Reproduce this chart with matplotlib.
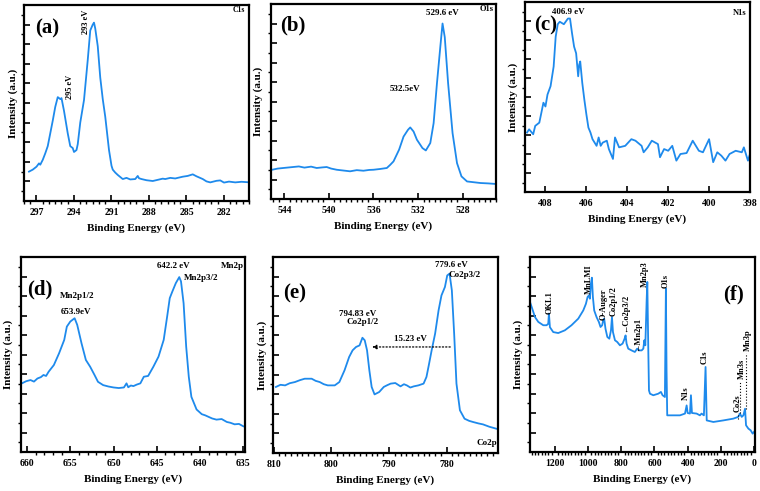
import matplotlib
matplotlib.use('Agg')
import matplotlib.pyplot as plt
from matplotlib.ticker import MultipleLocator

plt.rcParams['font.family'] = ['Liberation Serif', 'DejaVu Serif']
plt.rcParams['font.weight'] = 'bold'

BLUE = '#1e8aec'

# ── data (binding energy eV, intensity in % of axis height) ──
c1s_x = [297.6, 297.3, 297.0, 296.8, 296.7, 296.5, 296.3, 296.1, 295.9, 295.7, 295.5, 295.3,
         295.1, 295.0, 294.8, 294.5, 294.3, 294.1, 294.0, 293.8, 293.7, 293.5, 293.2, 292.9,
         292.7, 292.5, 292.4, 292.3, 292.1, 291.9, 291.7, 291.5, 291.2, 291.0, 290.9, 290.7,
         290.5, 290.1, 289.8, 289.5, 289.1, 288.9, 288.8, 288.6, 288.2, 287.7, 287.3, 286.9,
         286.7, 286.3, 285.9, 285.3, 284.9, 284.5, 284.2, 283.7, 283.4, 283.1, 282.6, 282.3,
         282.0, 281.6, 281.1, 280.6, 279.9]
c1s_y = [15, 16, 17.5, 19.2, 18.5, 21, 24.3, 28, 34.5, 41, 48, 53,
         52, 52.5, 46, 34.5, 28, 27, 25, 26, 29, 40, 51.5, 72,
         87, 90, 91, 88, 79, 63, 52, 43, 26, 18, 16, 14.5,
         13.3, 11.2, 11.8, 11, 11.2, 12.8, 11.6, 11.2, 10.6, 10.2, 10.8, 11.4,
         11.2, 11.8, 11.5, 12.4, 12.8, 13.6, 12.6, 11.2, 10, 9.5, 10.3, 10.5,
         9.4, 9.9, 9.5, 9.8, 9.5]

o1s_x = [545.1, 544.6, 544.1, 543.4, 542.7, 542.2, 541.6, 541.1, 540.6, 540.2, 539.8, 539.3,
         538.7, 538.1, 537.5, 536.9, 536.4, 536.0, 535.4, 534.8, 534.5, 534.2, 533.7, 533.3,
         532.9, 532.7, 532.4, 532.1, 531.6, 531.3, 530.9, 530.6, 530.3, 530.0, 529.8, 529.6,
         529.3, 528.9, 528.5, 528.1, 527.6, 527.0, 526.4, 525.7, 525.0]
o1s_y = [15, 15.6, 15.9, 16.3, 16.7, 16.1, 16.6, 15.9, 16.2, 16.4, 15.6, 15,
         14.6, 14.2, 14.8, 14.5, 14.9, 15, 15.4, 15.9, 17.5, 19.3, 25.3, 32,
         35.5, 36.7, 34.6, 30.4, 26.1, 24.9, 28.7, 38.9, 59.4, 78, 90, 83,
         59.4, 33.8, 18.4, 11.6, 9, 8.6, 8.2, 8.0, 7.7]

n1s_x = [408.9, 408.8, 408.6, 408.5, 408.3, 408.2, 408.1, 408.0, 407.9, 407.75, 407.6, 407.5,
         407.4, 407.3, 407.1, 406.9, 406.8, 406.7, 406.6, 406.5, 406.4, 406.35, 406.3, 406.2,
         406.1, 406.0, 405.9, 405.8, 405.7, 405.5, 405.4, 405.3, 405.2, 405.0, 404.9, 404.7,
         404.6, 404.4, 404.1, 403.8, 403.6, 403.3, 403.2, 403.0, 402.8, 402.5, 402.4, 402.2,
         402.0, 401.8, 401.6, 401.4, 401.1, 400.8, 400.5, 400.3, 400.0, 399.8, 399.6, 399.4,
         399.2, 399.0, 398.7, 398.4, 398.3, 398.1, 398.0]
n1s_y = [31.3, 33, 30.4, 34.8, 36.5, 41.7, 47, 45, 51.3, 55.7, 66, 81.7,
         88.3, 89.6, 88.3, 91.3, 91.3, 83.5, 76.5, 73, 60.9, 67, 68.7, 57.4,
         48.7, 40.9, 33.9, 31.3, 27.8, 24.3, 28.7, 24.3, 26, 27, 22.6, 17.4,
         28.7, 23.5, 24.3, 27.8, 27, 24.3, 20.9, 23.5, 27, 25.2, 18.3, 22.6,
         21.7, 24.3, 16.5, 20, 20.5, 27, 21.7, 20.9, 27.8, 15.7, 20.9, 19.1,
         16.5, 20, 21.7, 20.9, 23.5, 16.5, 20]

mn2p_x = [660.6, 660.1, 659.6, 659.2, 658.8, 658.4, 658.1, 657.8, 657.5, 656.9, 656.3, 655.7,
          655.4, 655.0, 654.5, 654.2, 653.7, 653.2, 652.7, 652.2, 651.8, 651.2, 650.6, 650.0,
          649.4, 648.8, 648.5, 648.3, 648.0, 647.7, 647.3, 646.9, 646.5, 646.0, 645.4, 644.8,
          644.2, 643.8, 643.5, 643.2, 642.8, 642.4, 642.2, 641.9, 641.6, 641.3, 641.0, 640.4,
          639.8, 639.4, 639.0, 638.6, 638.1, 637.5, 636.9, 636.5, 636.0, 635.5, 635.0]
mn2p_y = [35.2, 36.3, 36.9, 36.1, 37.7, 38.4, 39.5, 39.0, 41.2, 44.6, 50.6, 57.5,
          64.3, 66.9, 68.6, 65.2, 55.7, 47.2, 43.7, 39.5, 36, 34.3, 33.6, 33.1,
          32.8, 33.1, 35.2, 33.2, 34.1, 33.8, 34.6, 35.2, 38.6, 39, 43.7, 48.9,
          57.5, 69.5, 78.9, 82.3, 86.6, 89.7, 87.5, 76.3, 54, 38.6, 28.3, 21.8,
          19.4, 18.8, 18, 17.2, 16.6, 16.9, 15.4, 15.0, 14.2, 14.4, 13.2]

co2p_x = [809.6, 808.8, 808.0, 807.2, 806.3, 805.4, 804.6, 803.4, 802.7, 802.0, 801.3, 800.6,
          799.4, 798.6, 797.7, 796.9, 796.3, 795.7, 795.1, 794.6, 794.2, 793.8, 793.4, 793.0,
          792.5, 791.7, 790.9, 790.3, 789.7, 788.9, 788.0, 787.4, 786.9, 786.3, 785.7, 784.9,
          784.0, 783.5, 783.1, 782.6, 782.0, 781.4, 780.9, 780.3, 779.9, 779.5, 779.1, 778.7,
          778.3, 777.7, 776.9, 776.1, 775.4, 774.5, 773.7, 772.6, 771.4]
co2p_y = [33.7, 34.8, 34.5, 35.6, 36.2, 37.2, 37.9, 37.9, 36.8, 36.2, 35.1, 34.5,
          34.5, 36.2, 42.2, 49, 52.4, 54.1, 54.9, 58.8, 57.5, 52.4, 42.2, 33.7,
          29.9, 31.1, 33.7, 34.6, 35.4, 35.7, 34, 35.1, 34.5, 33.4, 34, 34.5,
          35.4, 38.8, 44.7, 52.4, 60.9, 72.8, 80.4, 84.7, 90.6, 91.5, 83, 60.9,
          35.4, 21.8, 17.5, 16.4, 15.8, 15.1, 14.6, 13.4, 12.4]

survey_x = [1350, 1340, 1320, 1300, 1270, 1250, 1240, 1236, 1230, 1210, 1180, 1140,
            1100, 1059, 1029, 1013, 1003, 995, 989, 983, 977, 971, 963, 949,
            935, 925, 915, 909, 903, 895, 884, 872, 862, 856, 850, 838,
            824, 808, 792, 780, 774, 768, 758, 738, 718, 704, 691, 677,
            667, 661, 655, 647, 643, 637, 633, 627, 607, 577, 561, 551,
            537, 531, 527, 523, 497, 446, 416, 406, 400, 386, 380, 374,
            346, 326, 316, 302, 292, 285, 245, 185, 125, 95, 85, 74,
            64, 54, 48, 34, 20, 8, 0]
survey_y = [76.9, 74.4, 69.2, 66.7, 65, 65, 65.8, 71, 64, 61.5, 61, 62.4,
            65, 68.4, 72.6, 76, 79.5, 80.3, 78.6, 86.3, 89.4, 79.5, 72.6, 69.2,
            66.7, 64.1, 65, 67.5, 68.4, 63.2, 59, 58.1, 62.4, 69.2, 61.5, 57.3,
            56.4, 54.7, 55.6, 58.1, 59.8, 55.6, 53, 52.1, 51.3, 53, 52.1, 52.1,
            53, 57.3, 54.7, 77.8, 87.2, 52.1, 31.6, 29.9, 29.1, 29.9, 30.8, 29.1,
            28.2, 83.8, 41.9, 18.8, 18.8, 18.8, 19.7, 23.9, 20, 19.7, 29.1, 20,
            19.7, 18.8, 19.7, 18.8, 43.6, 16.2, 15.4, 16.2, 17.1, 18, 19.7, 18,
            18.8, 22.2, 13.7, 12, 11.1, 9.4, 10.3]

# survey peak labels: text, x, y (bottom of text)
survey_lbl = ['OKL1', 'MnLMI', 'O-Auger', 'Co2p1/2', '\u2190Co2p3/2', '\u2190Mn2p1',
              'Mn2p3', 'O1s', 'N1s', 'C1s', 'Co2s', 'Mn3s', 'Mn3p']
survey_lx = [1230, 995, 905, 848, 775, 703, 657, 532, 410, 295, 100, 74, 38]
survey_ly = [71, 81, 67.5, 70, 61.5, 52, 84.6, 84, 26.5, 45, 20.5, 37.6, 52]

fig = plt.figure(figsize=(7.6, 4.91), dpi=100)


def style(ax, xlim, major, minor, ylab_x):
    ax.set_xlim(*xlim)
    ax.set_ylim(0, 100)
    ax.xaxis.set_major_locator(MultipleLocator(major))
    if minor:
        ax.xaxis.set_minor_locator(MultipleLocator(minor))
    ax.yaxis.set_major_locator(MultipleLocator(10))
    ax.yaxis.set_minor_locator(MultipleLocator(5))
    ax.tick_params(direction='in', top=False, right=False, labelleft=False,
                   labelsize=7, pad=5)
    ax.tick_params(which='major', length=4, width=1.2)
    ax.tick_params(which='minor', length=2, width=1)
    for s in ax.spines.values():
        s.set_linewidth(1.6)
    ax.set_xlabel('Binding Energy (eV)', fontsize=8, fontweight='bold', labelpad=5)
    ax.set_ylabel('Intensity (a.u.)', fontsize=8, fontweight='bold', va='center')
    ax.yaxis.set_label_coords(ylab_x, 0.5)


def lbl(ax, x, y, s, fs=6.5, **kw):
    ax.text(x, y, s, fontsize=fs, fontweight='bold', ha='center', va='center', **kw)


# (a) C1s
ax = fig.add_axes([24/760, 1-201/491, 225/760, 196/491])
ax.plot(c1s_x, c1s_y, color=BLUE, lw=1.3)
style(ax, (298, 280), 3, 0.5, -0.049)
lbl(ax, 296.15, 88, '(a)', fs=15)
lbl(ax, 294.3, 58.3, '295 eV', rotation=90, fs=6)
lbl(ax, 293.0, 91.5, '293 eV', rotation=90, fs=6)
lbl(ax, 280.8, 97.5, 'C1s', fs=5.5)

# (b) O1s
ax = fig.add_axes([271/760, 1-199/491, 225/760, 195/491])
ax.plot(o1s_x, o1s_y, color=BLUE, lw=1.3)
style(ax, (545.2, 525), 4, 0.5, -0.058)
lbl(ax, 543.25, 89, '(b)', fs=15)
lbl(ax, 529.8, 95.5, '529.6 eV')
lbl(ax, 533.2, 56.3, '532.5eV')
lbl(ax, 525.8, 97.5, 'O1s', fs=6)

# (c) N1s
ax = fig.add_axes([525/760, 1-192/491, 225/760, 190/491])
ax.plot(n1s_x, n1s_y, color=BLUE, lw=1.3)
style(ax, (409, 398), 2, None, -0.053)
lbl(ax, 408.0, 87.5, '(c)', fs=15)
lbl(ax, 406.9, 94.5, '406.9 eV')
lbl(ax, 398.5, 94, 'N1s', fs=6)

# (d) Mn2p
ax = fig.add_axes([21/760, 1-452/491, 224/760, 195/491])
ax.plot(mn2p_x, mn2p_y, color=BLUE, lw=1.3)
style(ax, (660.7, 634.8), 5, 1, -0.055)
lbl(ax, 658.5, 83.5, '(d)', fs=15)
lbl(ax, 654.2, 79.8, 'Mn2p1/2')
lbl(ax, 654.3, 72, '653.9eV')
lbl(ax, 643.1, 95.2, '642.2 eV')
lbl(ax, 639.9, 89.2, 'Mn2p3/2')
lbl(ax, 636.3, 95.5, 'Mn2p')

# (e) Co2p
ax = fig.add_axes([273/760, 1-453/491, 225/760, 196/491])
ax.plot(co2p_x, co2p_y, color=BLUE, lw=1.3)
style(ax, (810.1, 771.1), 10, 1, -0.046)
lbl(ax, 806.3, 81.3, '(e)', fs=15)
lbl(ax, 795.5, 70.7, '794.83 eV')
lbl(ax, 794.6, 66.8, 'Co2p1/2')
lbl(ax, 786.3, 58.3, '15.23 eV')
lbl(ax, 779.1, 95.7, '779.6 eV')
lbl(ax, 776.9, 90.6, 'Co2p3/2')
lbl(ax, 773.0, 5.1, 'Co2p')
ax.annotate('', xy=(793.4, 54.1), xytext=(778.9, 54.1),
            arrowprops=dict(arrowstyle='-|>', ls=':', lw=0.9, color='black',
                            mutation_scale=6))

# (f) survey
ax = fig.add_axes([530/760, 1-452/491, 225/760, 195/491])
ax.plot(survey_x, survey_y, color=BLUE, lw=1.3)
style(ax, (1350, -6), 200, 20, -0.053)
lbl(ax, 125, 81, '(f)', fs=15)
for s, x, y in zip(survey_lbl, survey_lx, survey_ly):
    ax.text(x, y, s, fontsize=6, fontweight='bold', rotation=90, ha='center', va='bottom')
ax.plot([84, 84], [20, 36.5], ls=':', color='black', lw=0.8)
ax.plot([50, 50], [22, 51], ls=':', color='black', lw=0.8)
ax.plot([95, 95], [17, 20], ls=':', color='black', lw=0.8)

fig.savefig('out.png', dpi=100)
